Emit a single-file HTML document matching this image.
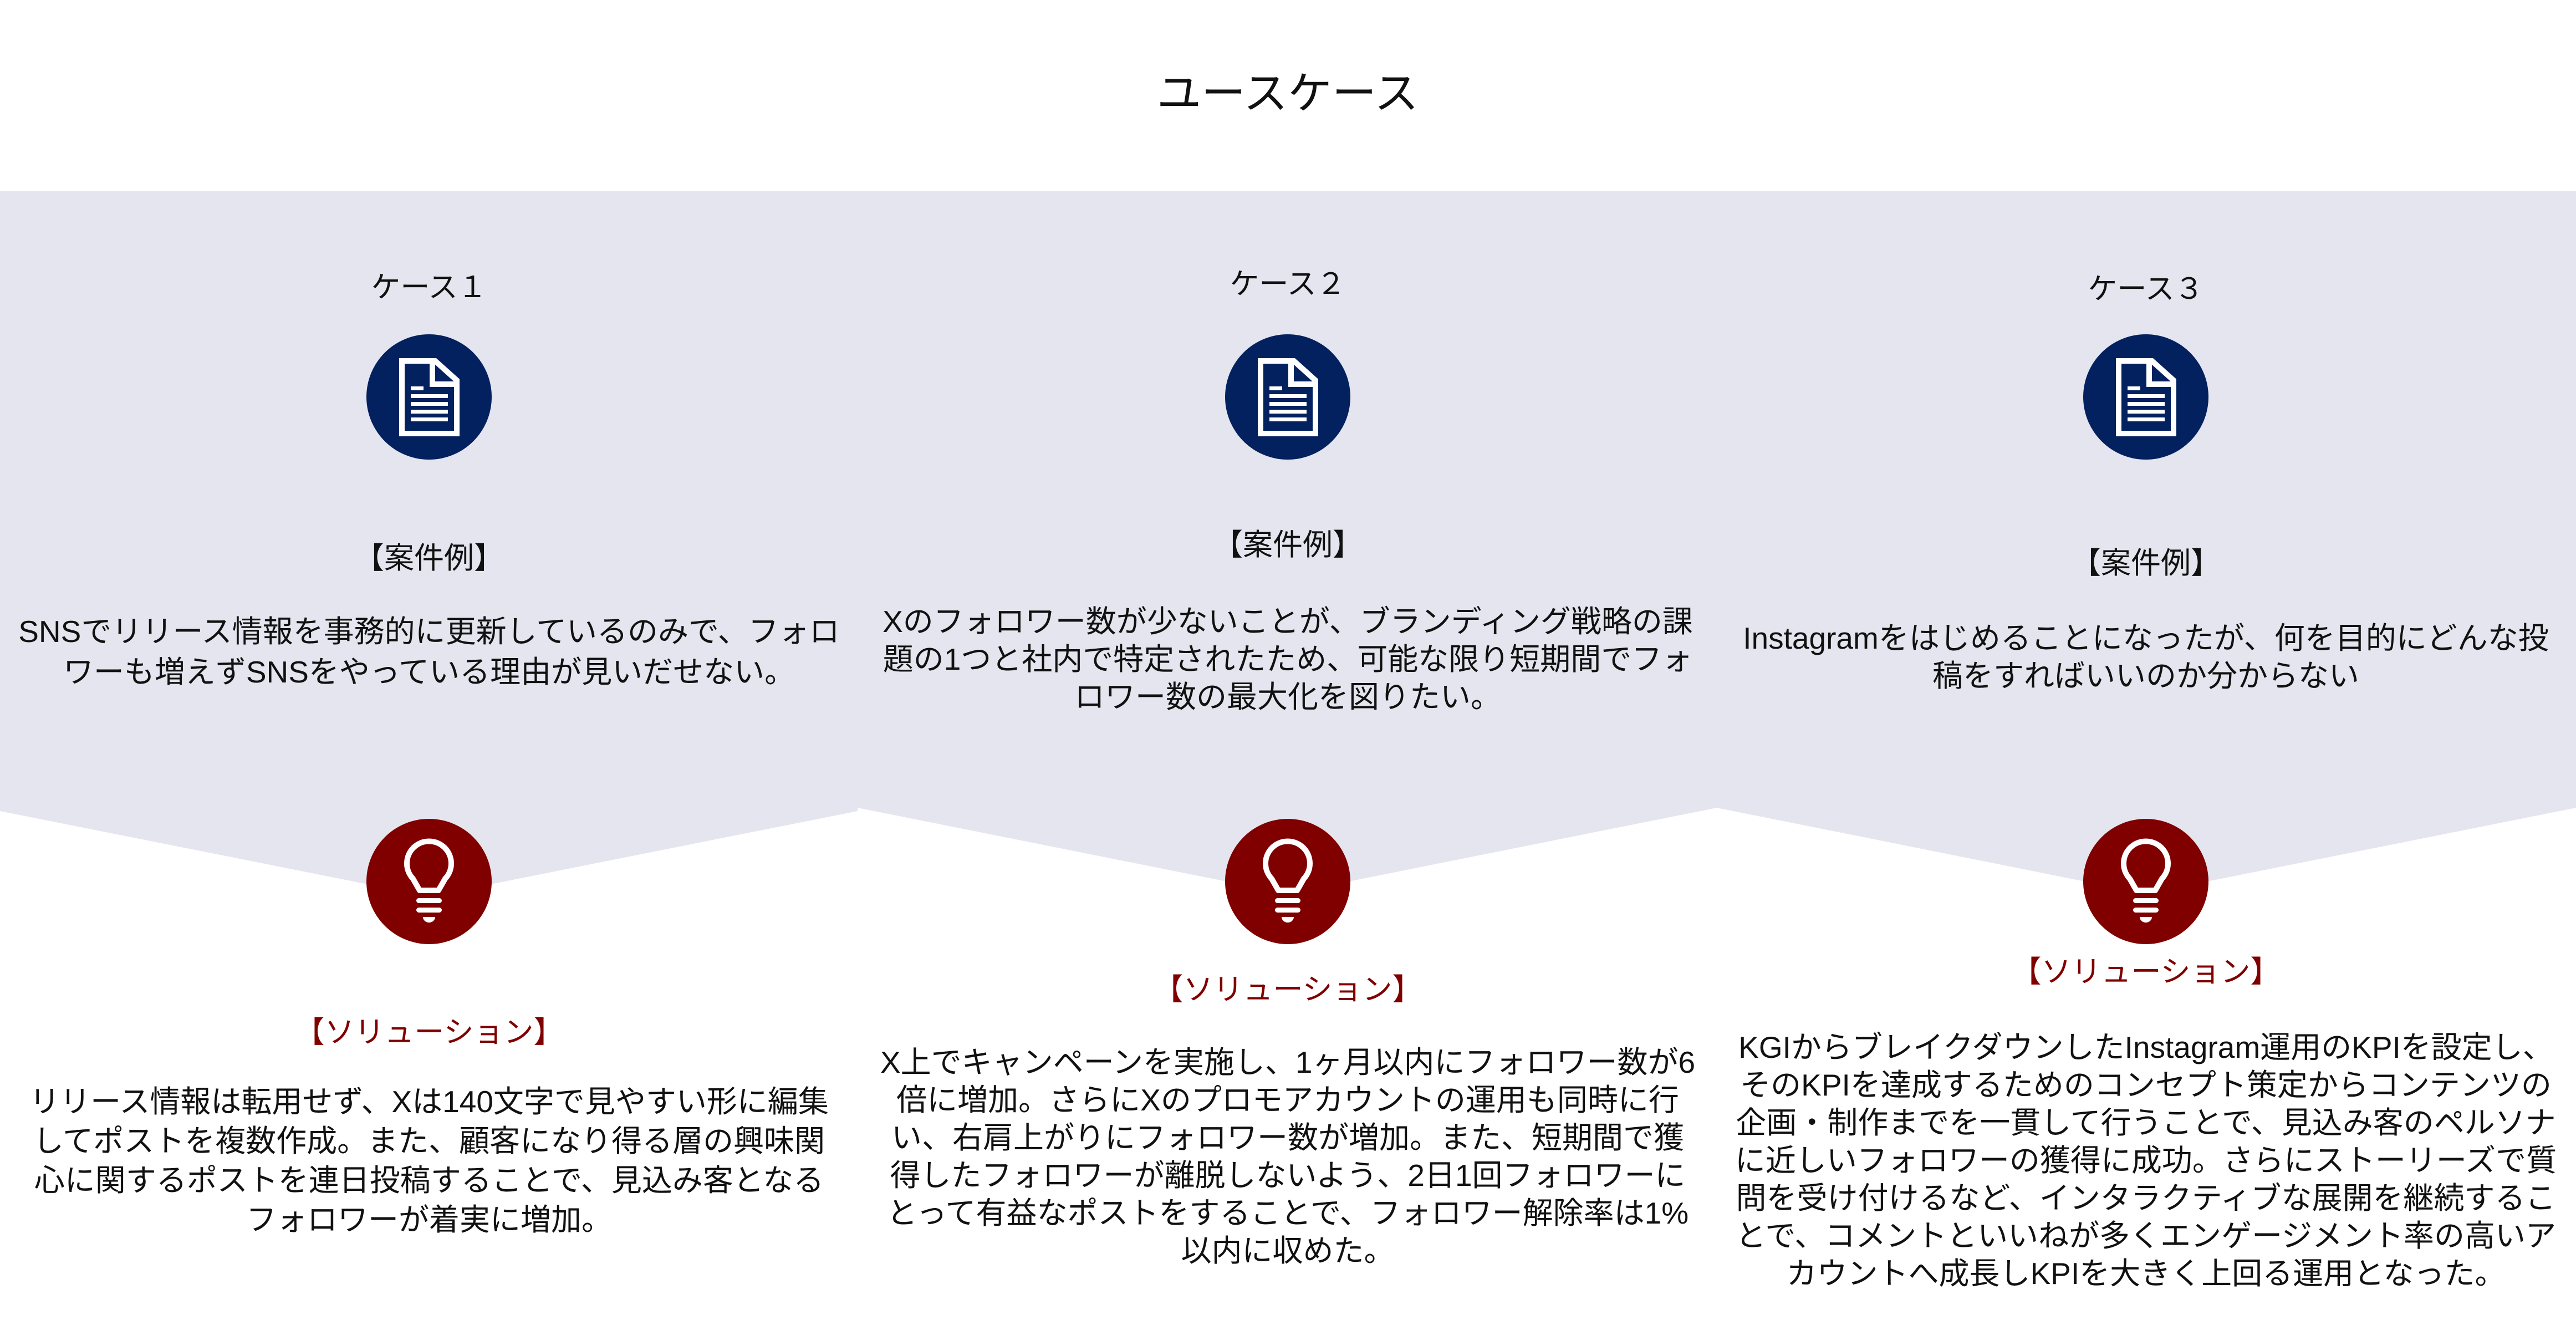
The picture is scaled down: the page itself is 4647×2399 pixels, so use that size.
<!DOCTYPE html>
<html><head><meta charset="utf-8">
<style>
html,body{margin:0;padding:0;background:#fff;}
body{width:4647px;height:2399px;position:relative;overflow:hidden;font-family:"Liberation Sans","Noto Sans CJK JP",sans-serif;color:#111;}
.t{position:absolute;text-align:center;white-space:nowrap;transform:translateX(-50%);}
.red{color:#800000;}
</style></head><body>
<svg width="4647" height="2399" style="position:absolute;left:0;top:0">
<polygon points="0,344 4647,344 4647,1457 3871,1612 3097,1457 2323,1612 1547,1457 1547,1463 774,1617 0,1463" fill="#e4e5ee"/>
<defs>
<g id="doc">
<circle r="113" fill="#02215e"/>
<path d="M-49,-65 L11,-65 L50,-30 L50,66 L-49,66 Z" fill="none" stroke="#fff" stroke-width="10"/>
<path d="M6,-65 L6,-23 L50,-23" fill="none" stroke="#fff" stroke-width="10"/>
<rect x="-33" y="-19" width="23" height="7" fill="#fff"/>
<rect x="-33" y="-5" width="67" height="7" fill="#fff"/>
<rect x="-33" y="9" width="67" height="7" fill="#fff"/>
<rect x="-33" y="23" width="67" height="7" fill="#fff"/>
<rect x="-33" y="37" width="67" height="7" fill="#fff"/>
</g>
<g id="bulb">
<circle r="113" fill="#800000"/>
<path d="M-17,16 L-29,-5 A40,40 0 1,1 29,-5 L17,16 Z" fill="none" stroke="#fff" stroke-width="10" stroke-linejoin="round"/>
<rect x="-23" y="30" width="46" height="9" rx="4.5" fill="#fff"/>
<rect x="-23" y="47" width="46" height="9" rx="4.5" fill="#fff"/>
<path d="M-11,64 L11,64 A11,10 0 0,1 -11,64 Z" fill="#fff"/>
</g>
</defs>
<use href="#doc" x="774" y="716"/>
<use href="#doc" x="2323" y="716"/>
<use href="#doc" x="3871" y="716"/>
<use href="#bulb" x="774" y="1590"/>
<use href="#bulb" x="2323" y="1590"/>
<use href="#bulb" x="3871" y="1590"/>
</svg>

<div class="t" style="left:2323px;top:119px;font-size:80px;line-height:100px;">ユースケース</div>

<div class="t" style="left:774px;top:489px;font-size:53px;line-height:60px;">ケース１</div>
<div class="t" style="left:2323px;top:483px;font-size:53px;line-height:60px;">ケース２</div>
<div class="t" style="left:3871px;top:492px;font-size:53px;line-height:60px;">ケース３</div>

<div class="t" style="left:774px;top:972px;font-size:54px;line-height:70px;">【案件例】</div>
<div class="t" style="left:2323px;top:948px;font-size:54px;line-height:70px;">【案件例】</div>
<div class="t" style="left:3871px;top:981px;font-size:54px;line-height:70px;">【案件例】</div>

<div class="t" style="left:774px;top:1103px;font-size:55px;line-height:73px;">SNSでリリース情報を事務的に更新しているのみで、フォロ<br>ワーも増えずSNSをやっている理由が見いだせない。</div>
<div class="t" style="left:2323px;top:1087px;font-size:55px;line-height:68px;">Xのフォロワー数が少ないことが、ブランディング戦略の課<br>題の1つと社内で特定されたため、可能な限り短期間でフォ<br>ロワー数の最大化を図りたい。</div>
<div class="t" style="left:3871px;top:1117px;font-size:55px;line-height:68px;">Instagramをはじめることになったが、何を目的にどんな投<br>稿をすればいいのか分からない</div>

<div class="t red" style="left:774px;top:1827px;font-size:54px;line-height:70px;">【ソリューション】</div>
<div class="t red" style="left:2323px;top:1750px;font-size:54px;line-height:70px;">【ソリューション】</div>
<div class="t red" style="left:3871px;top:1718px;font-size:54px;line-height:70px;">【ソリューション】</div>

<div class="t" style="left:774px;top:1952px;font-size:55px;line-height:71px;">リリース情報は転用せず、Xは140文字で見やすい形に編集<br>してポストを複数作成。また、顧客になり得る層の興味関<br>心に関するポストを連日投稿することで、見込み客となる<br>フォロワーが着実に増加。</div>
<div class="t" style="left:2323px;top:1882px;font-size:55px;line-height:68px;">X上でキャンペーンを実施し、1ヶ月以内にフォロワー数が6<br>倍に増加。さらにXのプロモアカウントの運用も同時に行<br>い、右肩上がりにフォロワー数が増加。また、短期間で獲<br>得したフォロワーが離脱しないよう、2日1回フォロワーに<br>とって有益なポストをすることで、フォロワー解除率は1%<br>以内に収めた。</div>
<div class="t" style="left:3871px;top:1855px;font-size:55px;line-height:68px;">KGIからブレイクダウンしたInstagram運用のKPIを設定し、<br>そのKPIを達成するためのコンセプト策定からコンテンツの<br>企画・制作までを一貫して行うことで、見込み客のペルソナ<br>に近しいフォロワーの獲得に成功。さらにストーリーズで質<br>問を受け付けるなど、インタラクティブな展開を継続するこ<br>とで、コメントといいねが多くエンゲージメント率の高いア<br>カウントへ成長しKPIを大きく上回る運用となった。</div>
</body></html>
